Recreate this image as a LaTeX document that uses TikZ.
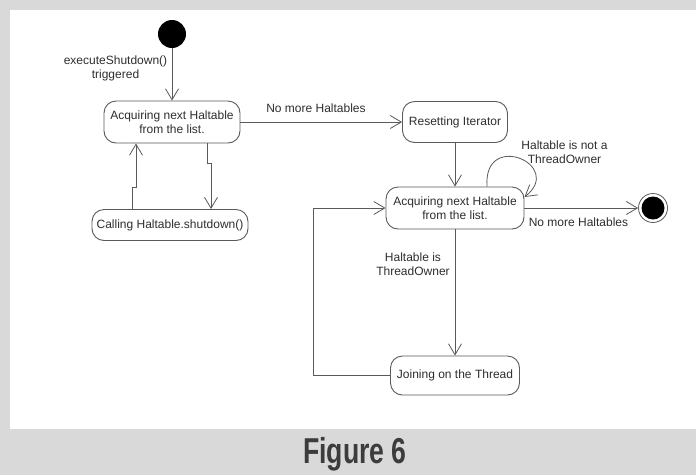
\documentclass[tikz,border=0pt]{standalone}
\usepackage{fontspec}
\usepackage{graphicx}
\setmainfont{Liberation Sans}
\usetikzlibrary{arrows.meta}
\definecolor{framegray}{HTML}{D9D9D9}
\definecolor{linegray}{HTML}{5A5A5A}
\definecolor{inkgray}{HTML}{2E2E2E}
\definecolor{capgray}{HTML}{3C3C3C}

\begin{document}
\begin{tikzpicture}[x=1pt,y=-1pt,
  state/.style={draw=linegray, line width=0.9pt, rounded corners=12pt, fill=white,
    text=inkgray, align=center, font=\fontsize{12}{14}\selectfont, inner sep=0pt},
  lbl/.style={text=inkgray, align=center, font=\fontsize{12}{14}\selectfont, inner sep=0pt},
  flow/.style={draw=linegray, line width=0.8pt, -{Straight Barb[length=11pt,width=13pt]}},
]
% frame and caption band
\fill[framegray] (0,0) rectangle (696,475);
\fill[white] (10,10) rectangle (696,429);
\useasboundingbox (0,0) rectangle (696,475);

% start and end states
\node[circle, fill=black, minimum size=28pt, inner sep=0pt] (init) at (172,34) {};
\node[circle, draw=linegray, line width=0.8pt, fill=white, minimum size=29pt, inner sep=0pt] (final) at (653,208) {};
\fill[black] (final.center) circle (11.5pt);

% activity states
\node[state, minimum width=136pt, minimum height=42pt] (s1) at (172,122) {Acquiring next Haltable\\from the list.};
\node[state, minimum width=156pt, minimum height=31pt] (s2) at (170,225) {Calling Haltable.shutdown()};
\node[state, minimum width=105pt, minimum height=41pt] (reset) at (455,122) {Resetting Iterator};
\node[state, minimum width=138pt, minimum height=42pt] (s3) at (455,208) {Acquiring next Haltable\\from the list.};
\node[state, minimum width=129pt, minimum height=39pt] (join) at (455,375.5) {Joining on the Thread};

% transitions
\draw[flow] (init) -- (s1);
\node[lbl] (trig) at (115.5,68.5) {executeShutdown()\\triggered};

\draw[flow] ([xshift=35pt]s1.south) -- ++(0,20) -- ++(4,0) -- ([xshift=41pt]s2.north);
\draw[flow] ([xshift=-38pt]s2.north) -- ++(0,-22) -- ++(4,0) -- ([xshift=-36pt]s1.south);

\draw[flow] (s1.east) -- (reset.west);
\node[lbl] (nomore1) at (316,108) {No more Haltables};

\draw[flow] (reset) -- (s3);

\draw[flow] ([xshift=32pt]s3.north) .. controls +(-4,-57) and +(41,-32) .. ([yshift=11pt]s3.east);
\node[lbl] (notowner) at (564.5,152) {Haltable is not a\\ThreadOwner};

\draw[flow] (s3.east) -- (final);
\node[lbl] (nomore2) at (578.5,222) {No more Haltables};

\draw[flow] (s3) -- (join);
\node[lbl] (owner) at (413,264.5) {Haltable is\\ThreadOwner};

\draw[flow] (join.west) -- ++(-77,0) |- (s3.west);

% caption
\node[anchor=base, inner sep=0pt, text=capgray, font=\fontsize{36}{36}\selectfont\bfseries] (cap) at (355,463) {\scalebox{0.74}[1]{Figure 6}};
\end{tikzpicture}
\end{document}
